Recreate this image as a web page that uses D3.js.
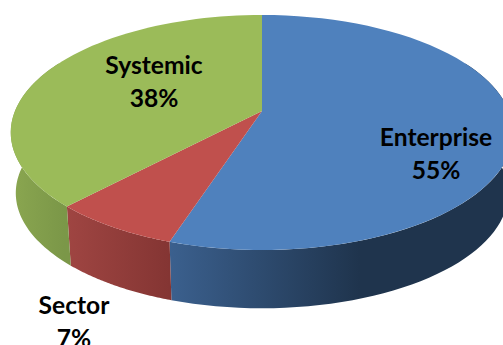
<!DOCTYPE html>
<html>
<head>
<meta charset="utf-8">
<script src="https://cdnjs.cloudflare.com/ajax/libs/d3/7.8.5/d3.min.js"></script>
<style>
html,body{margin:0;padding:0;background:#fff;overflow:hidden}
svg{display:block}
text{font-family:Lato,"Open Sans",sans-serif;font-weight:700;fill:#000;text-anchor:middle}
</style>
</head>
<body>
<svg id="chart" width="503" height="345"></svg>
<script>
// Shares of each level, clockwise from twelve o'clock
const categories = ["Enterprise", "Sector", "Systemic"];
const shares = [55, 7, 38];
const percentLabels = ["55%", "7%", "38%"];
const topColors = ["#4f81bd", "#c0504d", "#9bbb59"];
const wallStops = [["#3b608e", "#1f344d"], ["#9f4542", "#843533"], ["#7b9748", "#8aa650"]];
const labelX = [436, 74, 154];
const labelY = [146, 314, 74];
const lineGap = 33;

const W = 503, H = 345;
const svg = d3.select("#chart");

// Tilted-disc projection: p controls how much the far edge is foreshortened
const apexX = 262, apexY = 111, spanX = 247, spanY = 113.6, p = 0.183;
const wallDrop = 61, baseScale = 0.98;

function rim(angle, lower) {
  const u = Math.sin(angle), v = Math.cos(angle), w = 1 + p * v;
  const s = lower ? baseScale : 1;
  return [apexX + s * spanX * u / w, apexY + (lower ? wallDrop : 0) - s * spanY * v / w];
}

const arcs = d3.pie().sort(null)(shares);
const line = d3.line();
const steps = (a0, a1) => d3.range(0, 61).map(i => a0 + (a1 - a0) * i / 60);

// Horizontal shading for each slice's outer wall
const defs = svg.append("defs");
arcs.forEach((a, i) => {
  const xs = steps(a.startAngle, a.endAngle).map(t => rim(t, false)[0]);
  const x0 = i === 2 ? 64 : d3.min(xs);
  const x1 = i === 0 ? x0 + 190 : i === 2 ? 12 : d3.max(xs);
  const g = defs.append("linearGradient")
    .attr("id", "wall" + i).attr("gradientUnits", "userSpaceOnUse")
    .attr("x1", x0).attr("x2", x1).attr("y1", 0).attr("y2", 0);
  g.append("stop").attr("offset", 0).attr("stop-color", wallStops[i][0]);
  g.append("stop").attr("offset", 1).attr("stop-color", wallStops[i][1]);
});

// Outer walls: only the front half of the disc can be seen
const front0 = Math.PI * 0.35, front1 = Math.PI * 1.65;
arcs.forEach((a, i) => {
  const a0 = Math.max(a.startAngle, front0), a1 = Math.min(a.endAngle, front1);
  const ts = steps(a0, a1);
  const pts = ts.map(t => rim(t, false)).concat(ts.slice().reverse().map(t => rim(t, true)));
  svg.append("path").attr("d", line(pts) + "Z").attr("fill", `url(#wall${i})`);
});

// Top faces
arcs.forEach((a, i) => {
  const pts = [[apexX, apexY]].concat(steps(a.startAngle, a.endAngle).map(t => rim(t, false)));
  svg.append("path").attr("d", line(pts) + "Z").attr("fill", topColors[i]);
});

// Two-line labels
categories.forEach((c, i) => {
  const t = svg.append("text").attr("font-size", 24.6);
  t.append("tspan").attr("x", labelX[i]).attr("y", labelY[i]).text(c);
  t.append("tspan").attr("x", labelX[i]).attr("y", labelY[i] + lineGap).text(percentLabels[i]);
});
</script>
</body>
</html>
